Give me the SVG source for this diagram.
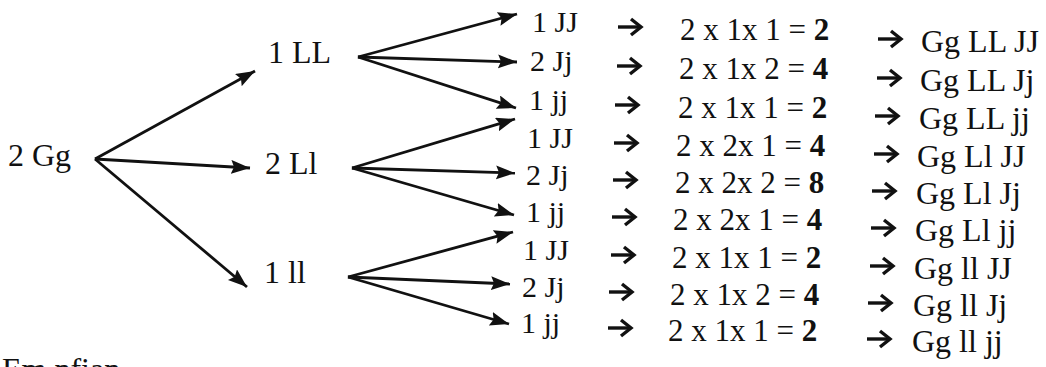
<svg xmlns="http://www.w3.org/2000/svg" width="1046" height="367" viewBox="0 0 1046 367">
<style>
text{font-family:"Liberation Serif","Times New Roman",serif;fill:#111}
.n{font-size:32px}
.l{font-size:30px}
.e{font-size:31px}
.g{font-size:32px}
.b{font-weight:bold}
.c line{stroke:#111;stroke-width:2.8;marker-end:url(#ah)}
.ra{fill:none;stroke:#111;stroke-width:3.4;stroke-linejoin:miter}
</style>
<defs>
<marker id="ah" markerUnits="userSpaceOnUse" markerWidth="22" markerHeight="16" refX="19" refY="7" orient="auto">
<path d="M0,0 L19,7 L0,14 L3,7 Z" fill="#111"/>
</marker>
<g id="ra" class="ra"><path d="M0,0 H23"/><path d="M13,-8 L23,0 L13,8"/></g>
</defs>
<rect width="1046" height="367" fill="#fff"/>
<g id="connectors" class="c">
<line x1="95" y1="159" x2="255" y2="71"/>
<line x1="95" y1="159" x2="250" y2="168"/>
<line x1="95" y1="159" x2="247" y2="287"/>
<line x1="358" y1="57" x2="517" y2="14"/>
<line x1="358" y1="57" x2="517" y2="62"/>
<line x1="358" y1="57" x2="516" y2="108"/>
<line x1="352" y1="168" x2="515" y2="119"/>
<line x1="352" y1="168" x2="515" y2="173"/>
<line x1="352" y1="168" x2="514" y2="215"/>
<line x1="348" y1="277" x2="513" y2="232"/>
<line x1="348" y1="277" x2="510" y2="284"/>
<line x1="348" y1="277" x2="509" y2="324"/>
</g>
<g id="n-Gg"><text class="n" x="8" y="166">2 Gg</text></g>
<g id="n-LL"><text class="n" x="268" y="63">1 LL</text></g>
<g id="n-Ll"><text class="n" x="265" y="174">2 Ll</text></g>
<g id="n-ll"><text class="n" x="264" y="283">1 ll</text></g>
<g id="row1"><text class="l" x="532" y="32">1 JJ</text><use href="#ra" x="618" y="27"/><text class="e" x="680" y="40">2 x 1x 1 = <tspan class="b">2</tspan></text><use href="#ra" x="878" y="39"/><text class="g" x="921" y="52">Gg LL JJ</text></g>
<g id="row2"><text class="l" x="530" y="71">2 Jj</text><use href="#ra" x="617" y="66"/><text class="e" x="679" y="79">2 x 1x 2 = <tspan class="b">4</tspan></text><use href="#ra" x="877" y="78"/><text class="g" x="920" y="91">Gg LL Jj</text></g>
<g id="row3"><text class="l" x="529" y="110">1 jj</text><use href="#ra" x="615" y="105"/><text class="e" x="678" y="118">2 x 1x 1 = <tspan class="b">2</tspan></text><use href="#ra" x="875" y="116"/><text class="g" x="919" y="129">Gg LL jj</text></g>
<g id="row4"><text class="l" x="527" y="148">1 JJ</text><use href="#ra" x="614" y="143"/><text class="e" x="676" y="156">2 x 2x 1 = <tspan class="b">4</tspan></text><use href="#ra" x="874" y="154"/><text class="g" x="917" y="167">Gg Ll JJ</text></g>
<g id="row5"><text class="l" x="526" y="185">2 Jj</text><use href="#ra" x="613" y="180"/><text class="e" x="675" y="193">2 x 2x 2 = <tspan class="b">8</tspan></text><use href="#ra" x="872" y="191"/><text class="g" x="916" y="204">Gg Ll Jj</text></g>
<g id="row6"><text class="l" x="526" y="222">1 jj</text><use href="#ra" x="612" y="217"/><text class="e" x="673" y="230">2 x 2x 1 = <tspan class="b">4</tspan></text><use href="#ra" x="871" y="228"/><text class="g" x="915" y="241">Gg Ll jj</text></g>
<g id="row7"><text class="l" x="523" y="260">1 JJ</text><use href="#ra" x="611" y="255"/><text class="e" x="672" y="268">2 x 1x 1 = <tspan class="b">2</tspan></text><use href="#ra" x="870" y="266"/><text class="g" x="914" y="279">Gg ll JJ</text></g>
<g id="row8"><text class="l" x="522" y="297">2 Jj</text><use href="#ra" x="609" y="292"/><text class="e" x="670" y="305">2 x 1x 2 = <tspan class="b">4</tspan></text><use href="#ra" x="868" y="303"/><text class="g" x="913" y="316">Gg ll Jj</text></g>
<g id="row9"><text class="l" x="521" y="333">1 jj</text><use href="#ra" x="608" y="328"/><text class="e" x="668" y="341">2 x 1x 1 = <tspan class="b">2</tspan></text><use href="#ra" x="867" y="339"/><text class="g" x="912" y="352">Gg ll jj</text></g>
<text class="n" x="2" y="380">Em nfian</text>
</svg>
